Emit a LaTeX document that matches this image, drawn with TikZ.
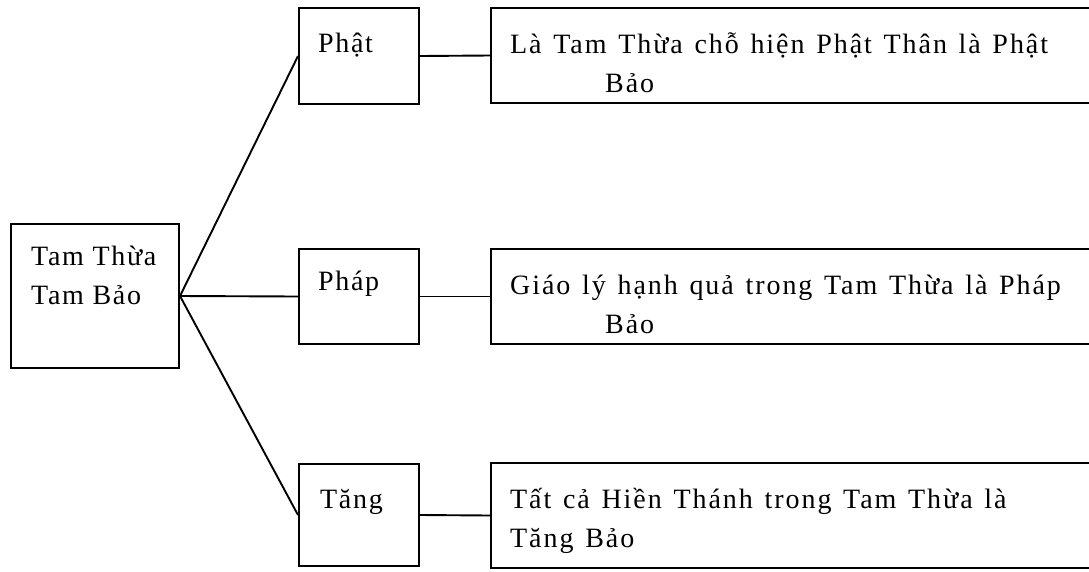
\documentclass[tikz,border=0pt]{standalone}
\usepackage{fontspec}
\setmainfont{Liberation Serif}[LetterSpace=6]
\newfontfamily\widefont{Liberation Serif}[LetterSpace=7,WordSpace=1.3]
\usetikzlibrary{positioning}
\tikzset{box/.style={draw, line width=2pt, inner sep=0pt, anchor=north west},
  lbl/.style={inner sep=0pt, anchor=base west, align=left, font=\fontsize{28}{39}\selectfont},
  widelbl/.style={lbl, font=\fontsize{28}{39}\widefont},
  link/.style={line width=1.9pt}}

\begin{document}
\begin{tikzpicture}[x=1pt,y=-1pt]
\clip (0,0) rectangle (1089,571);
% boxes
\node[box, minimum width=168, minimum height=144] (tam) at (10,223) {};
\node[box, minimum width=120, minimum height=96] (phat) at (298,7) {};
\node[box, minimum width=120, minimum height=95] (phap) at (298,248) {};
\node[box, minimum width=120, minimum height=102] (tang) at (298,463) {};
\node[box, minimum width=610, minimum height=95] (phatbao) at (490,7) {};
\node[box, minimum width=610, minimum height=95] (phapbao) at (490,248) {};
\node[box, minimum width=610, minimum height=105] (tangbao) at (490,462) {};
% texts (base = last line)
\node[lbl] (tamtxt) at (31,304) {Tam Thừa\\Tam Bảo};
\node[lbl] (phattxt) at (318,52) {Phật};
\node[lbl] (phaptxt) at (318,290) {Pháp};
\node[lbl] (tangtxt) at (320,508) {Tăng};
\node[widelbl] (phatbaotxt) at (510,92) {Là Tam Thừa chỗ hiện Phật Thân là Phật\\\hspace*{95pt}Bảo};
\node[widelbl] (phapbaotxt) at (510,333) {Giáo lý hạnh quả trong Tam Thừa là Pháp\\\hspace*{95pt}Bảo};
\node[widelbl] (tangbaotxt) at (510,547) {Tất cả Hiền Thánh trong Tam Thừa là\\Tăng Bảo};
% lines
\draw[link] (tam.east) -- (phat.west);
\draw[link] (tam.east) -- (phap.west);
\draw[link] (tam.east) -- (tang.west);
\draw[link] (phat.east) -- (phatbao.west);
\draw[link] (phap.east) -- (phapbao.west);
\draw[link] (tang.east) -- (tangbao.west);
\end{tikzpicture}
\end{document}
